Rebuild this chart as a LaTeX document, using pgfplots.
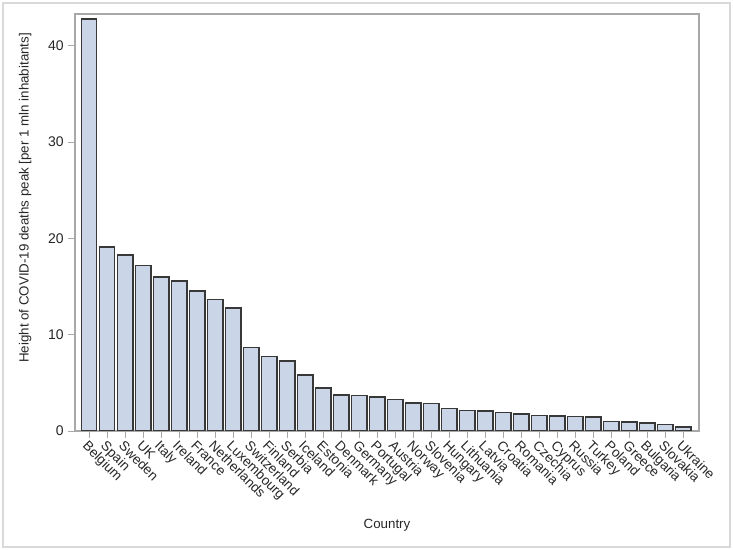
\documentclass[border=0pt]{standalone}
\usepackage{pgfplots}
\pgfplotsset{compat=1.18}
\usepackage{fontspec}
\setmainfont{Liberation Sans}
\definecolor{barfill}{HTML}{CAD6E7}
\definecolor{baredge}{HTML}{383838}
\definecolor{axgray}{HTML}{A8A8A8}
\definecolor{txt}{HTML}{262626}
\begin{document}
\begin{tikzpicture}
% page frame, 733x550 px at 0.75pt per px
\useasboundingbox (0,0) rectangle (549.75pt,412.5pt);
\draw[black!15, line width=1.2pt] (2.25pt,2.25pt) rectangle (547.5pt,410.25pt);
\begin{axis}[
    at={(56.25pt,89.25pt)}, anchor=south west,
    scale only axis,
    width=468pt, height=312.75pt,
    ymin=0, ymax=43.3,
    xmin=-0.78, xmax=33.88,
    ytick={0,10,20,30,40},
    xtick=data,
    xticklabels={Belgium,Spain,Sweden,UK,Italy,Ireland,France,Netherlands,Luxembourg,Switzerland,Finland,Serbia,Iceland,Estonia,Denmark,Germany,Portugal,Austria,Norway,Slovenia,Hungary,Lithuania,Latvia,Croatia,Romania,Czechia,Cyprus,Russia,Turkey,Poland,Greece,Bulgaria,Slovakia,Ukraine},
    tick align=outside,
    major tick length=5pt,
    tick style={axgray, line width=0.6pt},
    axis line style={axgray, line width=0.8pt},
    xtick pos=bottom, ytick pos=left,
    /pgf/number format/assume math mode=true,
    yticklabel style={font=\fontsize{10.5}{12}\selectfont, text=txt},
    xticklabel style={font=\fontsize{10.2}{12}\selectfont, text=txt, rotate=-45, anchor=north west, inner sep=1pt},
    xlabel={Country},
    ylabel={Height of COVID-19 deaths peak [per 1 mln inhabitants]},
    label style={font=\fontsize{10}{12}\selectfont, text=txt},
    xlabel style={at={(axis description cs:0.5,0)}, anchor=center, yshift=-70.5pt},
    ylabel style={at={(axis description cs:-0.080,0.559)}, anchor=center},
    ybar, bar width=0.85, bar shift=0pt,
]
\addplot[fill=barfill, draw=baredge, line width=1.2pt] coordinates {
(0,42.75) (1,19.1) (2,18.3) (3,17.2) (4,16.0) (5,15.6) (6,14.55) (7,13.65)
(8,12.75) (9,8.65) (10,7.75) (11,7.26) (12,5.83) (13,4.48) (14,3.75) (15,3.69)
(16,3.56) (17,3.27) (18,2.92) (19,2.85) (20,2.33) (21,2.12) (22,2.05) (23,1.91)
(24,1.77) (25,1.6) (26,1.56) (27,1.5) (28,1.43) (29,0.98) (30,0.91) (31,0.84)
(32,0.66) (33,0.42)
};
\end{axis}
\end{tikzpicture}
\end{document}
